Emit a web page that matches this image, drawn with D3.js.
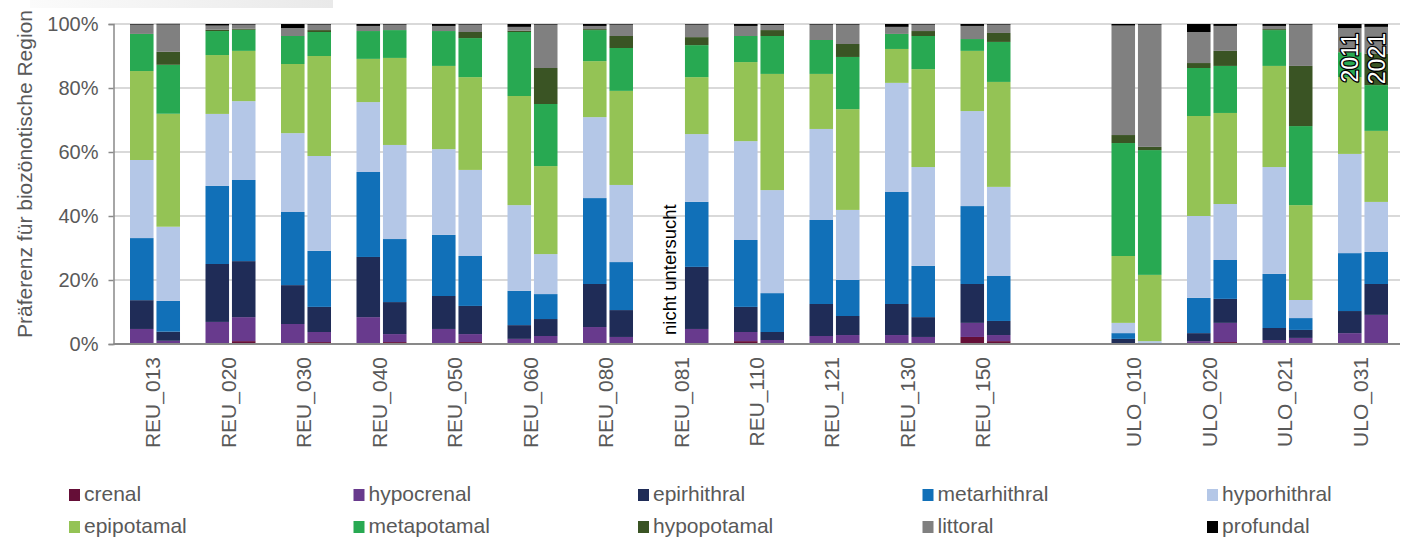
<!DOCTYPE html>
<html><head><meta charset="utf-8">
<script src="https://cdn.jsdelivr.net/npm/d3@7/dist/d3.min.js"></script>
<style>
body{margin:0;background:#fff;}
svg{display:block;font-family:"Liberation Sans",Arial,Helvetica,sans-serif;}
</style>
</head><body>
<svg id="chart" width="1404" height="538"></svg>
<script>
// ---------- data ----------
const sites = ["REU_013","REU_020","REU_030","REU_040","REU_050","REU_060","REU_080","REU_081",
               "REU_110","REU_121","REU_130","REU_150","ULO_010","ULO_020","ULO_021","ULO_031"];
const slots = [...sites.slice(0, 12), "", ...sites.slice(12)];
const years = ["2011", "2021"];
const regions = ["crenal","hypocrenal","epirhithral","metarhithral","hyporhithral",
                 "epipotamal","metapotamal","hypopotamal","littoral","profundal"];
const regionColors = ["#650e37","#683a8d","#1f2c57","#1170b8","#b4c7e7",
                      "#94c355","#28a952","#3a5424","#808080","#000000"];
const yTicks = [0, 20, 40, 60, 80, 100];
const yTitle = "Präferenz für biozönotische Region";
const missingLabel = "nicht untersucht";

// values in %, order: site by site, 2011 then 2021 (null = not examined)
const crenal       = [0,0.2, 0.2,0.9, 0.2,0.6, 0.3,0.6, 0,0.6, 0.2,0.3, 0,0, null,0, 0.9,0.3, 0.3,0, 0.2,0.3, 2.2,0.9, 0,0, 0,0.6, 0,0.2, 0.2,0.3];
const hypocrenal   = [4.7,0.8, 6.7,7.5, 6.05,3.15, 8.1,2.5, 4.7,2.5, 1.4,2.2, 5.3,2.2, null,4.7, 2.85,0.95, 2.2,2.8, 2.6,1.9, 4.4,1.9, 0.3,0.1, 0.9,6.0, 1.25,1.7, 3.2,8.8];
const epirhithral  = [9.0,2.85, 18.1,17.5, 12.15,7.85, 18.8,10.0, 10.3,8.8, 4.3,5.3, 13.45,8.4, null,19.4, 7.85,2.5, 10.0,5.95, 9.7,6.2, 12.15,4.4, 1.3,0.2, 2.5,7.5, 3.75,2.5, 6.9,9.65];
const metarhithral = [19.4,9.6, 24.4,25.35, 22.85,17.5, 26.55,19.7, 19.1,15.6, 10.7,7.8, 26.85,15.0, null,20.3, 20.9,12.15, 26.25,11.25, 35.0,16.0, 24.35,14.05, 1.8,0.1, 11.0,12.15, 16.9,3.7, 18.1,10.0];
const hyporhithral = [24.4,23.2, 22.5,24.65, 24.65,29.65, 21.85,29.4, 26.8,26.9, 26.8,12.5, 25.3,24.1, null,21.2, 30.9,32.2, 28.45,21.9, 34.1,30.9, 29.7,27.85, 3.2,0.5, 25.6,17.5, 33.4,5.65, 31.0,15.65];
const epipotamal   = [27.8,35.3, 18.4,15.7, 21.6,31.25, 13.5,27.2, 26.0,29.0, 34.1,27.5, 17.5,29.4, null,17.8, 24.7,36.3, 17.2,31.5, 10.6,30.6, 18.8,32.8, 20.9,20.7, 31.25,28.45, 31.6,29.65, 24.0,22.2];
const metapotamal  = [11.6,15.3, 7.5,6.6, 8.75,7.5, 8.7,8.7, 10.9,12.2, 20.0,19.4, 9.7,13.4, null,10.0, 8.15,11.85, 10.6,16.3, 4.7,10.35, 3.7,12.5, 35.3,39.0, 15.0,14.7, 11.2,24.7, 7.8,14.3];
const hypopotamal  = [0,4.05, 0.4,0.3, 0,0.6, 0,0, 0,1.9, 0.4,11.25, 0.3,3.75, null,2.5, 0,1.85, 0,4.05, 0,1.55, 0,2.8, 2.5,1.0, 1.55,4.7, 0.3,18.8, 0,9.9];
const littoral     = [2.9,8.55, 1.3,1.3, 2.5,1.7, 1.6,1.7, 1.6,2.3, 1.2,13.55, 1.0,3.55, null,3.9, 3.15,1.6, 4.8,6.05, 2.2,2.0, 4.1,2.6, 34.2,38.2, 9.7,7.8, 1.0,12.9, 7.5,8.3];
const profundal    = [0.2,0.2, 0.5,0.2, 1.25,0.2, 0.6,0.2, 0.6,0.2, 0.9,0.2, 0.6,0.2, null,0.2, 0.6,0.3, 0.2,0.2, 0.9,0.2, 0.6,0.2, 0.5,0.2, 2.5,0.6, 0.6,0.2, 1.3,0.9];

// ---------- build table ----------
const seriesValues = {crenal, hypocrenal, epirhithral, metarhithral, hyporhithral,
                      epipotamal, metapotamal, hypopotamal, littoral, profundal};
const rows = [];
sites.forEach((s, i) => years.forEach((yr, j) => {
  const k = i * 2 + j;
  const r = {site: s, year: yr, missing: crenal[k] === null};
  regions.forEach(g => r[g] = seriesValues[g][k] || 0);
  rows.push(r);
}));
const stacked = d3.stack().keys(regions)(rows);
const color = d3.scaleOrdinal().domain(regions).range(regionColors);

// ---------- scales ----------
const svg = d3.select("#chart");
const plotLeft = 113.5, plotRight = 1400;
const x = d3.scaleBand().domain(slots).range([117.25, 1400.75])
  .paddingInner(0.3377).paddingOuter(0.1689);
const xYear = d3.scaleBand().domain(years).range([0, x.bandwidth()]).paddingInner(0.11);
const y = d3.scaleLinear().domain([0, 100]).range([344, 24]);
const textGray = "#595959";

// top-left faint banner
const defs = svg.append("defs");
const grad = defs.append("linearGradient").attr("id", "bang");
grad.append("stop").attr("offset", "0%").attr("stop-color", "#fbfbfb");
grad.append("stop").attr("offset", "100%").attr("stop-color", "#e9e9e9");
svg.append("rect").attr("x", 30).attr("y", 0).attr("width", 303).attr("height", 8).attr("fill", "url(#bang)");

// gridlines
svg.append("g").selectAll("line").data(yTicks.filter(t => t > 0)).join("line")
  .attr("x1", plotLeft).attr("x2", plotRight)
  .attr("y1", d => y(d)).attr("y2", d => y(d))
  .attr("stroke", "#d9d9d9").attr("stroke-width", 2);

// bars
svg.append("g").selectAll("g").data(stacked).join("g")
  .attr("fill", d => color(d.key))
  .selectAll("rect").data(d => d.filter(p => !p.data.missing)).join("rect")
  .attr("x", p => x(p.data.site) + xYear(p.data.year))
  .attr("width", xYear.bandwidth())
  .attr("y", p => y(p[1]))
  .attr("height", p => Math.max(0, y(p[0]) - y(p[1])));

// "nicht untersucht"
rows.filter(r => r.missing).forEach(r => {
  const cx = x(r.site) + xYear(r.year) + xYear.bandwidth() / 2;
  svg.append("text")
    .attr("transform", `translate(${cx + 6},335) rotate(-90)`)
    .attr("font-size", 18.5).attr("fill", "#000").text(missingLabel);
});

// year labels on last site
const lastSite = sites[sites.length - 1];
years.forEach(yr => {
  const cx = x(lastSite) + xYear(yr) + xYear.bandwidth() / 2;
  svg.append("text")
    .attr("transform", `translate(${cx + 8.5},33) rotate(-90)`)
    .attr("text-anchor", "end")
    .attr("font-size", 23)
    .attr("fill", "#fff").attr("stroke", "#000").attr("stroke-width", 2.6)
    .attr("paint-order", "stroke").attr("stroke-linejoin", "round")
    .text(yr);
});

// baseline
svg.append("line").attr("x1", plotLeft).attr("x2", plotRight)
  .attr("y1", y(0)).attr("y2", y(0)).attr("stroke", "#898989").attr("stroke-width", 2);

// y axis
const yAxis = svg.append("g").attr("transform", `translate(${plotLeft},0)`)
  .call(d3.axisLeft(y).tickValues(yTicks).tickFormat(d => d + "%").tickSize(5).tickPadding(10));
yAxis.select(".domain").attr("stroke", "#898989").attr("stroke-width", 1.5);
yAxis.selectAll(".tick line").attr("stroke", "#898989").attr("stroke-width", 1.5);
yAxis.selectAll(".tick text").attr("font-size", 20).attr("fill", textGray)
  .attr("font-family", "Liberation Sans, Arial, sans-serif");

// y title
svg.append("text").attr("transform", "translate(32,174) rotate(-90)")
  .attr("text-anchor", "middle").attr("font-size", 21).attr("fill", textGray).text(yTitle);

// x labels
svg.append("g").selectAll("text").data(sites).join("text")
  .attr("transform", d => `translate(${x(d) + x.bandwidth() / 2 + 5},357) rotate(-90)`)
  .attr("text-anchor", "end").attr("font-size", 21).attr("fill", textGray).text(d => d);

// legend
const legend = svg.append("g").selectAll("g").data(regions).join("g")
  .attr("transform", (d, i) => `translate(${69 + (i % 5) * 284.5},${489 + Math.floor(i / 5) * 32})`);
legend.append("rect").attr("width", 11).attr("height", 12).attr("fill", d => color(d));
legend.append("text").attr("x", 15).attr("y", 12).attr("font-size", 21).attr("fill", textGray).text(d => d);
</script>
</body></html>
